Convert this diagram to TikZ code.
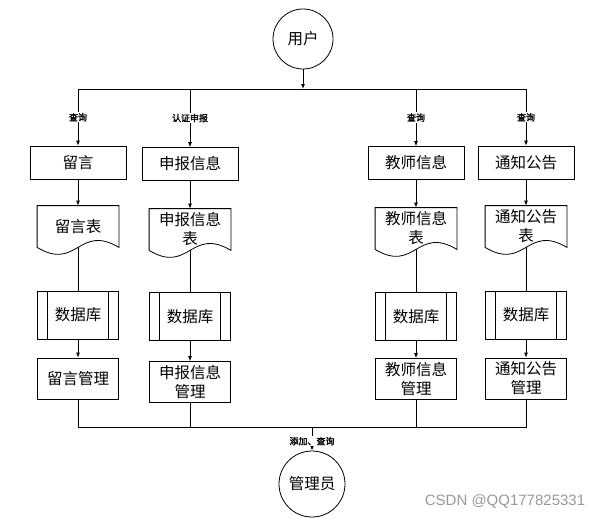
\documentclass[tikz,border=0pt]{standalone}
\usepackage{fontspec}
\setmainfont{Noto Sans CJK SC}[AutoFakeBold=2]
\newfontfamily\markfont{Liberation Sans}
\usetikzlibrary{arrows.meta}

% document outline with a wavy bottom edge
\newcommand{\docwave}[1]{%
  \draw (#1.south west) -- (#1.north west) -- (#1.north east) -- (#1.south east)
    .. controls +(-40,-24) and +(40,24) .. (#1.south west);}

\tikzset{
  main/.style={font=\fontsize{15.5}{19}\selectfont},
  topbox/.style={main, draw, minimum width=96pt, minimum height=33pt, inner sep=0pt},
  docbox/.style={main, minimum width=81pt, minimum height=41pt, inner sep=0pt, align=center},
  dbbox/.style={main, draw, minimum width=81pt, minimum height=48pt, inner sep=0pt,
    path picture={\draw ([xshift=10pt]path picture bounding box.north west) -- ([xshift=10pt]path picture bounding box.south west)
      ([xshift=-10pt]path picture bounding box.north east) -- ([xshift=-10pt]path picture bounding box.south east);}},
  admbox/.style={main, draw, minimum width=81pt, minimum height=41pt, inner sep=0pt, align=center},
  lbl/.style={fill=white, inner sep=1pt, font=\fontsize{9}{10}\selectfont\bfseries},
  arr/.style={-{Latex[length=5pt,width=4pt]}}
}

\begin{document}
\begin{tikzpicture}[x=1pt, y=-1pt, line width=0.8pt]
  \useasboundingbox (0,0) rectangle (609,519);

  % Draw the two actors
  \node[main, circle, draw, minimum size=60pt] (user) at (303,39) {用户};
  \node[main, circle, draw, minimum size=66pt] (admin) at (312,484) {管理员};

  % Draw the first row of boxes
  \node[topbox] (msg) at (78,162.5) {留言};
  \node[topbox] (decl) at (190,164) {申报信息};
  \node[topbox] (teach) at (416,163) {教师信息};
  \node[topbox] (notice) at (526,162.5) {通知公告};

  % Draw the tables
  \node[docbox] (msgtab) at (78,226.5) {留言表};
  \node[docbox] (decltab) at (190,229.5) {申报信息\\表};
  \node[docbox] (teachtab) at (416,228.5) {教师信息\\表};
  \node[docbox] (noticetab) at (526,226.5) {通知公告\\表};
  \docwave{msgtab}
  \docwave{decltab}
  \docwave{teachtab}
  \docwave{noticetab}

  % Draw the databases
  \node[dbbox] (msgdb) at (78,315) {数据库};
  \node[dbbox] (decldb) at (190,316.5) {数据库};
  \node[dbbox] (teachdb) at (416,316.5) {数据库};
  \node[dbbox] (noticedb) at (526,315) {数据库};

  % Draw the management boxes
  \node[admbox] (msgadm) at (78,378.5) {留言管理};
  \node[admbox] (decladm) at (190,382) {申报信息\\管理};
  \node[admbox] (teachadm) at (416,379) {教师信息\\管理};
  \node[admbox] (noticeadm) at (526,378.5) {通知公告\\管理};

  % Draw the upper bus
  \coordinate (top1) at (78,89);
  \coordinate (top2) at (190,89);
  \coordinate (top3) at (416,89);
  \coordinate (top4) at (526,89);
  \coordinate (topc) at (303,89);
  \draw (top1) -- (top4);
  \draw[arr] (user) -- (topc);
  \draw[arr] (top1) -- node[lbl] {查询} (msg);
  \draw[arr] (top2) -- node[lbl] {认证申报} (decl);
  \draw[arr] (top3) -- node[lbl] {查询} (teach);
  \draw[arr] (top4) -- node[lbl] {查询} (notice);

  % Draw the columns
  \draw[arr] (msg) -- (msgtab);
  \draw[arr] (decl) -- (decltab);
  \draw[arr] (teach) -- (teachtab);
  \draw[arr] (notice) -- (noticetab);
  \draw (msgtab) -- (msgdb);
  \draw (decltab) -- (decldb);
  \draw (teachtab) -- (teachdb);
  \draw (noticetab) -- (noticedb);
  \draw[arr] (msgdb) -- (msgadm);
  \draw[arr] (decldb) -- (decladm);
  \draw[arr] (teachdb) -- (teachadm);
  \draw[arr] (noticedb) -- (noticeadm);

  % Draw the lower bus
  \coordinate (bot1) at (78,427);
  \coordinate (bot2) at (190,427);
  \coordinate (bot3) at (416,427);
  \coordinate (bot4) at (526,427);
  \coordinate (botc) at (312,427);
  \draw (msgadm) -- (bot1) -- (bot4) -- (noticeadm);
  \draw (decladm) -- (bot2);
  \draw (teachadm) -- (bot3);
  \draw[arr] (botc) -- node[lbl, pos=0.6] {添加、查询} (admin);

  % watermark
  \node[text=black!40, font=\markfont\fontsize{15}{16}\selectfont] (mark) at (505,501) {CSDN @QQ177825331};
\end{tikzpicture}
\end{document}
